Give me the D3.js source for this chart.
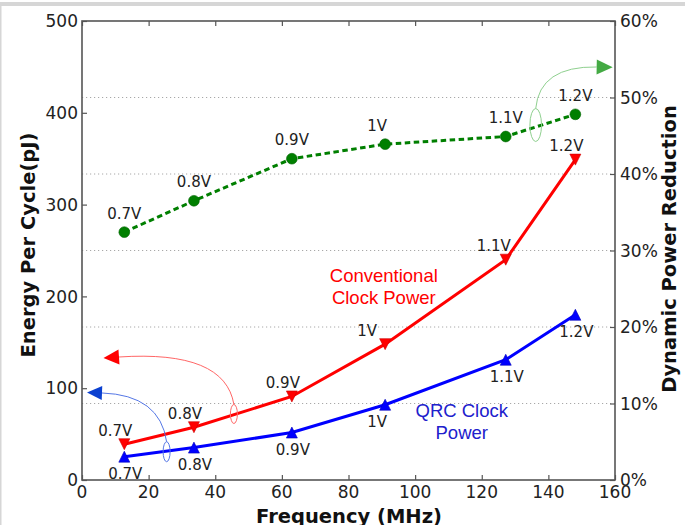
<!DOCTYPE html>
<html><head><meta charset="utf-8">
<script src="https://cdn.jsdelivr.net/npm/d3@7"></script>
<style>body{margin:0;background:#fff}svg{display:block}</style>
</head><body>
<svg id="c" width="685" height="525"></svg>
<script>
// ---- data ----
const freq = [12.7, 33.6, 63, 91, 127.2, 148.1];
const voltages = ["0.7V", "0.8V", "0.9V", "1V", "1.1V", "1.2V"];
const conventional = [39, 57.5, 91, 148, 240, 349];
const qrc = [25.4, 35.3, 51.7, 82, 131, 180];
const reduction = [32.4, 36.5, 42.0, 43.9, 44.9, 47.8];
const xTicks = [0, 20, 40, 60, 80, 100, 120, 140, 160];
const yTicks = [0, 100, 200, 300, 400, 500];
const y2Ticks = [0, 10, 20, 30, 40, 50, 60];
// annotation anchors in data units (MHz, pJ)
const ellipses = [{x:45.6, y:71.9}, {x:25.4, y:30.8}, {x:136.2, y:386.7}];
const arcEnds = [{x:11.1, y:134}, {x:6.0, y:94.8}, {x:154.5, y:449.9}];
const arcCtrls = [{x:42.9, y:141.6}, {x:23.4, y:92.6}, {x:137.4, y:451}];

const svg = d3.select("#c");
// window frame
svg.append("rect").attr("x",0).attr("y",2).attr("width",685).attr("height",4).attr("fill","#d6d6d6");
svg.append("rect").attr("x",0).attr("y",6).attr("width",1.5).attr("height",519).attr("fill","#d6d6d6");

const L=82, R=615, T=21, B=480;
const x = d3.scaleLinear().domain([0,160]).range([L,R]);
const y = d3.scaleLinear().domain([0,500]).range([B,T]);
const y2 = d3.scaleLinear().domain([0,60]).range([B,T]);
const font = "DejaVu Sans, sans-serif";

// grid (right axis ticks)
svg.append("g").selectAll("line").data(y2Ticks.slice(1,-1)).join("line")
  .attr("x1",L).attr("x2",R).attr("y1",d=>y2(d)).attr("y2",d=>y2(d))
  .attr("stroke","#a8a8a8").attr("stroke-width",1).attr("stroke-dasharray","1.2,2.8");

// axes with inward ticks
const ax = (g, axis) => { g.call(axis); g.select(".domain").remove(); g.selectAll("text").remove();
  g.selectAll("line").attr("stroke","#555").attr("stroke-width",1.2); };
svg.append("g").attr("transform",`translate(0,${B})`).call(g=>ax(g, d3.axisTop(x).tickValues(xTicks).tickSize(5)));
svg.append("g").attr("transform",`translate(0,${T})`).call(g=>ax(g, d3.axisBottom(x).tickValues(xTicks).tickSize(5)));
svg.append("g").attr("transform",`translate(${L},0)`).call(g=>ax(g, d3.axisRight(y).tickValues(yTicks).tickSize(5)));
svg.append("g").attr("transform",`translate(${R},0)`).call(g=>ax(g, d3.axisLeft(y2).tickValues(y2Ticks).tickSize(5)));

// tick labels
svg.append("g").selectAll("text").data(xTicks).join("text")
  .attr("x",d=>x(d)).attr("y",498).attr("text-anchor","middle")
  .attr("font-family",font).attr("font-size",17).attr("fill","#222").text(d=>d);
svg.append("g").selectAll("text").data(yTicks).join("text")
  .attr("x",L-4).attr("y",d=>y(d)).attr("dy","0.36em").attr("text-anchor","end")
  .attr("font-family",font).attr("font-size",17).attr("fill","#222").text(d=>d);
svg.append("g").selectAll("text").data(y2Ticks).join("text")
  .attr("x",R+5).attr("y",d=>y2(d)).attr("dy","0.36em").attr("text-anchor","start")
  .attr("font-family",font).attr("font-size",17).attr("fill","#222").text(d=>d+"%");

// axis titles
svg.append("text").attr("transform","translate(35,245) rotate(-90)").attr("text-anchor","middle")
  .attr("font-family",font).attr("font-weight","bold").attr("font-size",19.5).attr("fill","#111").text("Energy Per Cycle(pJ)");
svg.append("text").attr("transform","translate(676,249) rotate(-90)").attr("text-anchor","middle")
  .attr("font-family",font).attr("font-weight","bold").attr("font-size",19.5).attr("fill","#111").text("Dynamic Power Reduction");
svg.append("text").attr("x",349).attr("y",523).attr("text-anchor","middle")
  .attr("font-family",font).attr("font-weight","bold").attr("font-size",19.5).attr("fill","#111").text("Frequency (MHz)");

// lines
const idx = d3.range(freq.length);
const line = (arr, ys) => d3.line().x(i=>x(freq[i])).y(i=>ys(arr[i]))(idx);
svg.append("path").attr("d",line(conventional,y)).attr("fill","none").attr("stroke","#ff0000").attr("stroke-width",3);
svg.append("path").attr("d",line(qrc,y)).attr("fill","none").attr("stroke","#0000ff").attr("stroke-width",3);
svg.append("path").attr("d",line(reduction,y2)).attr("fill","none").attr("stroke","#007f00").attr("stroke-width",3).attr("stroke-dasharray","5.5,3.5");

// markers
const h = 5.5;
svg.append("g").selectAll("path").data(idx).join("path")
  .attr("d",i=>{const cx=x(freq[i]), cy=y(conventional[i]); return `M${cx-h},${cy-h}L${cx+h},${cy-h}L${cx},${cy+h}Z`;})
  .attr("fill","#ff0000").attr("stroke","#cc0000").attr("stroke-width",0.6);
svg.append("g").selectAll("path").data(idx).join("path")
  .attr("d",i=>{const cx=x(freq[i]), cy=y(qrc[i]); return `M${cx-h},${cy+h}L${cx+h},${cy+h}L${cx},${cy-h}Z`;})
  .attr("fill","#0000ff").attr("stroke","#0000bb").attr("stroke-width",0.6);
svg.append("g").selectAll("circle").data(idx).join("circle")
  .attr("cx",i=>x(freq[i])).attr("cy",i=>y2(reduction[i])).attr("r",5.4)
  .attr("fill","#007f00").attr("stroke","#006400").attr("stroke-width",0.6);

// voltage labels
const lab = (arr, ys, dx, dy) => svg.append("g").selectAll("text").data(idx).join("text")
  .attr("x",i=>x(freq[i])+dx(i)).attr("y",i=>ys(arr[i])+dy).attr("dy","0.36em").attr("text-anchor","middle")
  .attr("font-family",font).attr("font-size",15).attr("fill","#222").text(i=>voltages[i]);
lab(reduction, y2, i=> i===3 ? -8 : 0, -19);
lab(conventional, y, i=> i===3 ? -18 : (i===4 ? -12 : -9), -14);
lab(qrc, y, i=> i===3 ? -8 : 1, 17);

// series text annotations
const ann = (lines, cx, cy, color) => lines.forEach((t,k)=>svg.append("text")
  .attr("x",x(cx)).attr("y",y(cy)+k*22.5).attr("dy","0.36em").attr("text-anchor","middle")
  .attr("font-family","Liberation Sans, Arial, sans-serif").attr("font-size",18.5).attr("fill",color).text(t));
ann(["Conventional","Clock Power"], 90.6, 223.3, "#ff0000");
ann(["QRC Clock","Power"], 114, 76.3, "#2020cc");

// arcs with ellipses and arrowheads
const annStyle = [
  {line:"#ff6666", head:"#ff0000", rx:3.5, ry:9.5, len:15.5, hw:7.5},
  {line:"#5577e6", head:"#0b40d0", rx:3.5, ry:10, len:15, hw:7},
  {line:"#8fd08f", head:"#44aa44", rx:5.8, ry:16.5, len:16, hw:7.5}
];
ellipses.forEach((e,k)=>{
  const s = annStyle[k];
  const ex = x(e.x), ey = y(e.y);
  svg.append("ellipse").attr("cx",ex).attr("cy",ey).attr("rx",s.rx).attr("ry",s.ry)
    .attr("fill","none").attr("stroke",s.line).attr("stroke-width",1);
  const sx = ex, sy = ey - s.ry;
  const px = x(arcEnds[k].x), py = y(arcEnds[k].y);
  const qx = x(arcCtrls[k].x), qy = y(arcCtrls[k].y);
  svg.append("path").attr("d",`M${sx},${sy}Q${qx},${qy} ${px},${py}`)
    .attr("fill","none").attr("stroke",s.line).attr("stroke-width",1);
  let dx = px-qx, dy = py-qy; const n = Math.hypot(dx,dy); dx/=n; dy/=n;
  const tx = px+dx*s.len, ty = py+dy*s.len;
  svg.append("path").attr("d",`M${tx},${ty}L${px-dy*s.hw},${py+dx*s.hw}L${px+dy*s.hw},${py-dx*s.hw}Z`)
    .attr("fill",s.head);
});

// frame
svg.append("rect").attr("x",L).attr("y",T).attr("width",R-L).attr("height",B-T)
  .attr("fill","none").attr("stroke","#555").attr("stroke-width",1.6);
</script>
</body></html>
